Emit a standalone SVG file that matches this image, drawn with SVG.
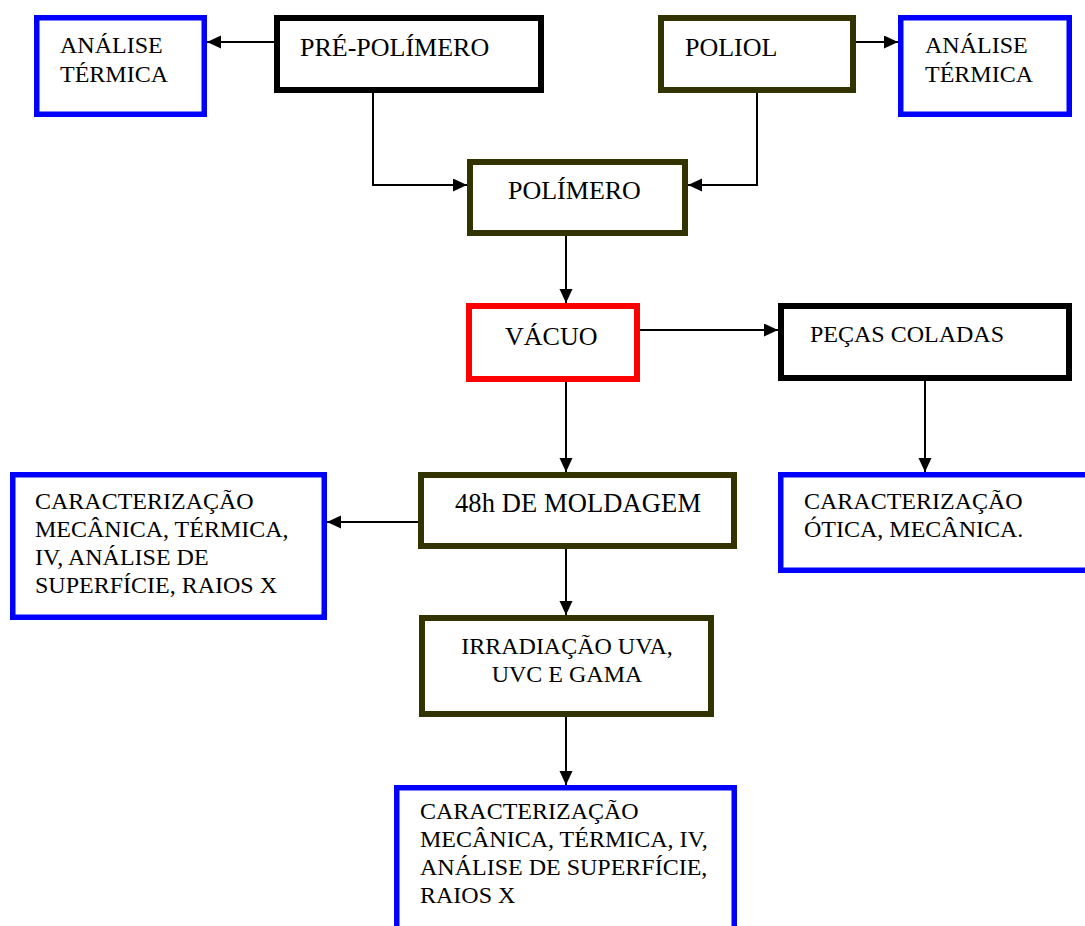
<svg xmlns="http://www.w3.org/2000/svg" width="1085" height="926" viewBox="0 0 1085 926">
<defs>
<marker id="arr" markerUnits="userSpaceOnUse" markerWidth="14" markerHeight="14" refX="14" refY="6.5" orient="auto">
<path d="M0,0 L14,6.5 L0,13 z" fill="#000"/>
</marker>
<style>
rect{fill:#fff}
.blue{stroke:#0000ff;stroke-width:5.5}
.olive{stroke:#333300;stroke-width:6}
.black{stroke:#000;stroke-width:6}
.red{stroke:#ff0000;stroke-width:6}
text{fill:#000;font-size:24px}
.big{font-size:26px}
.mid{text-anchor:middle}
#connectors path{fill:none;stroke:#000;stroke-width:2;marker-end:url(#arr)}
</style>
</defs>
<rect x="0" y="0" width="1085" height="926" fill="#fff"/>
<g id="connectors">
<path d="M274,42 H207"/>
<path d="M373,93 V185 H467"/>
<path d="M856,42 H898"/>
<path d="M757,93 V185 H688"/>
<path d="M566,236 V303"/>
<path d="M640,330 H778"/>
<path d="M566,382 V472"/>
<path d="M925,381 V472"/>
<path d="M418,522 H327"/>
<path d="M566,549 V615"/>
<path d="M566,717 V785"/>
</g>
<g font-family="Liberation Serif, Times New Roman, DejaVu Serif, serif">
<g id="analise1">
<rect class="blue" x="36.75" y="17.75" width="167.5" height="96.5"/>
<text x="60" y="53">ANÁLISE</text>
<text x="60" y="82">TÉRMICA</text>
</g>
<g id="prepolimero">
<rect class="black" x="277" y="18" width="264" height="72"/>
<text class="big" x="300" y="56">PRÉ-POLÍMERO</text>
</g>
<g id="poliol">
<rect class="olive" x="661" y="18" width="192" height="72"/>
<text class="big" x="685" y="56">POLIOL</text>
</g>
<g id="analise2">
<rect class="blue" x="900.75" y="17.75" width="168.5" height="96.5"/>
<text x="925" y="53">ANÁLISE</text>
<text x="925" y="82">TÉRMICA</text>
</g>
<g id="polimero">
<rect class="olive" x="470" y="162" width="215" height="71"/>
<text class="big" x="508" y="199">POLÍMERO</text>
</g>
<g id="vacuo">
<rect class="red" x="469" y="306" width="168" height="73"/>
<text class="big" x="505" y="345">VÁCUO</text>
</g>
<g id="pecas">
<rect class="black" x="781" y="306" width="288" height="72"/>
<text x="810" y="342">PEÇAS COLADAS</text>
</g>
<g id="moldagem">
<rect class="olive" x="421" y="475" width="313" height="71"/>
<text x="455" y="512" style="font-size:26.5px" textLength="246">48h DE MOLDAGEM</text>
</g>
<g id="caracL">
<rect class="blue" x="12.75" y="474.75" width="311.5" height="142.5"/>
<text x="35" y="509">CARACTERIZAÇÃO</text>
<text x="35" y="537">MECÂNICA, TÉRMICA,</text>
<text x="35" y="565">IV, ANÁLISE DE</text>
<text x="35" y="593">SUPERFÍCIE, RAIOS X</text>
</g>
<g id="caracR">
<rect class="blue" x="780.75" y="474.75" width="320" height="95.5"/>
<text x="804" y="509">CARACTERIZAÇÃO</text>
<text x="804" y="537">ÓTICA, MECÂNICA.</text>
</g>
<g id="irradiacao">
<rect class="olive" x="422" y="618" width="289" height="96"/>
<text class="mid" x="567" y="654">IRRADIAÇÃO UVA,</text>
<text class="mid" x="567" y="682">UVC E GAMA</text>
</g>
<g id="caracB">
<rect class="blue" x="396.75" y="787.75" width="337.5" height="160"/>
<text x="420" y="819">CARACTERIZAÇÃO</text>
<text x="420" y="847">MECÂNICA, TÉRMICA, IV,</text>
<text x="420" y="875">ANÁLISE DE SUPERFÍCIE,</text>
<text x="420" y="903">RAIOS X</text>
</g>
</g>
</svg>
